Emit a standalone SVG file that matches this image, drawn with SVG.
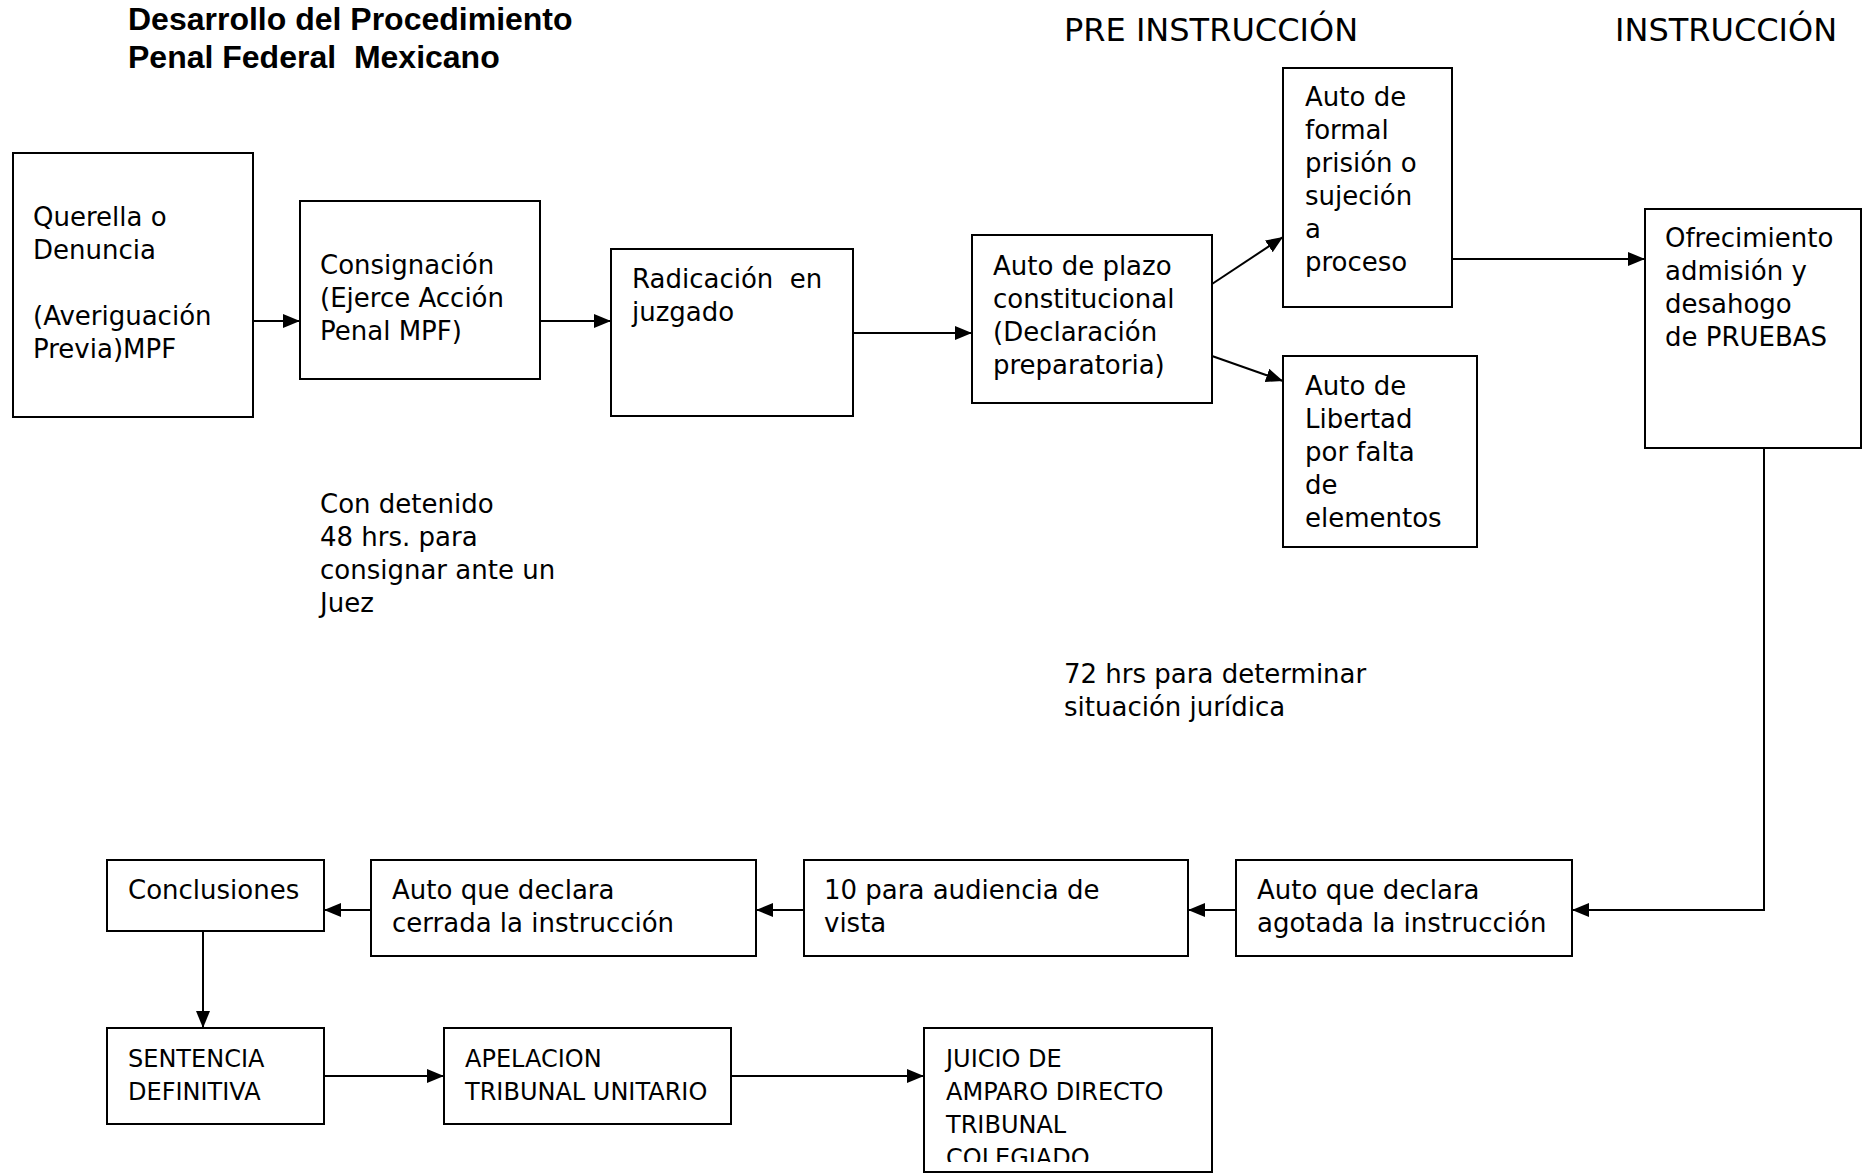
<svg xmlns="http://www.w3.org/2000/svg" width="1865" height="1176" viewBox="0 0 1865 1176">
<style>
.box{fill:#fff;stroke:#000;stroke-width:2}
.t{font-family:"DejaVu Sans","Liberation Sans",sans-serif;font-size:26px;fill:#000}
.u{font-size:24px}
.title{font-family:"Liberation Sans","DejaVu Sans",sans-serif;font-size:32px;font-weight:bold;fill:#000}
.hdr{font-family:"DejaVu Sans","Liberation Sans",sans-serif;font-size:32px;fill:#000}
.c{fill:none;stroke:#000;stroke-width:2}
</style>
<defs>
<marker id="ah" markerUnits="userSpaceOnUse" markerWidth="17" markerHeight="14" refX="17" refY="7" orient="auto">
<path d="M0,0 L17,7 L0,14 Z" fill="#000"/>
</marker>
<clipPath id="clipJ"><rect x="924" y="1028" width="288" height="134"/></clipPath>
</defs>
<rect width="1865" height="1176" fill="#fff"/>
<g id="title">
<text class="title" x="128" y="30">Desarrollo del Procedimiento</text>
<text class="title" x="128" y="68" xml:space="preserve">Penal Federal  Mexicano</text>
</g>
<g id="headers">
<text class="hdr" x="1064" y="41">PRE INSTRUCCIÓN</text>
<text class="hdr" x="1615" y="41">INSTRUCCIÓN</text>
</g>
<g id="connectors">
<line class="c" x1="253" y1="321" x2="300" y2="321" marker-end="url(#ah)"/>
<line class="c" x1="540" y1="321" x2="611" y2="321" marker-end="url(#ah)"/>
<line class="c" x1="853" y1="333" x2="972" y2="333" marker-end="url(#ah)"/>
<line class="c" x1="1212" y1="284" x2="1283" y2="237" marker-end="url(#ah)"/>
<line class="c" x1="1212" y1="356" x2="1283" y2="381" marker-end="url(#ah)"/>
<line class="c" x1="1452" y1="259" x2="1645" y2="259" marker-end="url(#ah)"/>
<polyline class="c" points="1764,448 1764,910 1572,910" marker-end="url(#ah)"/>
<line class="c" x1="1236" y1="910" x2="1188" y2="910" marker-end="url(#ah)"/>
<line class="c" x1="804" y1="910" x2="756" y2="910" marker-end="url(#ah)"/>
<line class="c" x1="371" y1="910" x2="324" y2="910" marker-end="url(#ah)"/>
<line class="c" x1="203" y1="931" x2="203" y2="1028" marker-end="url(#ah)"/>
<line class="c" x1="324" y1="1076" x2="444" y2="1076" marker-end="url(#ah)"/>
<line class="c" x1="731" y1="1076" x2="924" y2="1076" marker-end="url(#ah)"/>
</g>
<g id="n1">
<rect class="box" x="13" y="153" width="240" height="264"/>
<text class="t" x="33" y="226">Querella o</text>
<text class="t" x="33" y="259">Denuncia</text>
<text class="t" x="33" y="325">(Averiguación</text>
<text class="t" x="33" y="358">Previa)MPF</text>
</g>
<g id="n2">
<rect class="box" x="300" y="201" width="240" height="178"/>
<text class="t" x="320" y="274">Consignación</text>
<text class="t" x="320" y="307">(Ejerce Acción</text>
<text class="t" x="320" y="340">Penal MPF)</text>
</g>
<g id="n3">
<rect class="box" x="611" y="249" width="242" height="167"/>
<text class="t" x="632" y="288" xml:space="preserve">Radicación  en</text>
<text class="t" x="632" y="321">juzgado</text>
</g>
<g id="n4">
<rect class="box" x="972" y="235" width="240" height="168"/>
<text class="t" x="993" y="275">Auto de plazo</text>
<text class="t" x="993" y="308">constitucional</text>
<text class="t" x="993" y="341">(Declaración</text>
<text class="t" x="993" y="374">preparatoria)</text>
</g>
<g id="n5">
<rect class="box" x="1283" y="68" width="169" height="239"/>
<text class="t" x="1305" y="106">Auto de</text>
<text class="t" x="1305" y="139">formal</text>
<text class="t" x="1305" y="172">prisión o</text>
<text class="t" x="1305" y="205">sujeción</text>
<text class="t" x="1305" y="238">a</text>
<text class="t" x="1305" y="271">proceso</text>
</g>
<g id="n6">
<rect class="box" x="1283" y="356" width="194" height="191"/>
<text class="t" x="1305" y="395">Auto de</text>
<text class="t" x="1305" y="428">Libertad</text>
<text class="t" x="1305" y="461">por falta</text>
<text class="t" x="1305" y="494">de</text>
<text class="t" x="1305" y="527">elementos</text>
</g>
<g id="n7">
<rect class="box" x="1645" y="209" width="216" height="239"/>
<text class="t" x="1665" y="247">Ofrecimiento</text>
<text class="t" x="1665" y="280">admisión y</text>
<text class="t" x="1665" y="313">desahogo</text>
<text class="t" x="1665" y="346">de PRUEBAS</text>
</g>
<g id="n8">
<rect class="box" x="1236" y="860" width="336" height="96"/>
<text class="t" x="1257" y="899">Auto que declara</text>
<text class="t" x="1257" y="932">agotada la instrucción</text>
</g>
<g id="n9">
<rect class="box" x="804" y="860" width="384" height="96"/>
<text class="t" x="824" y="899">10 para audiencia de</text>
<text class="t" x="824" y="932">vista</text>
</g>
<g id="n10">
<rect class="box" x="371" y="860" width="385" height="96"/>
<text class="t" x="392" y="899">Auto que declara</text>
<text class="t" x="392" y="932">cerrada la instrucción</text>
</g>
<g id="n11">
<rect class="box" x="107" y="860" width="217" height="71"/>
<text class="t" x="128" y="899">Conclusiones</text>
</g>
<g id="n12">
<rect class="box" x="107" y="1028" width="217" height="96"/>
<text class="t u" x="128" y="1067">SENTENCIA</text>
<text class="t u" x="128" y="1100">DEFINITIVA</text>
</g>
<g id="n13">
<rect class="box" x="444" y="1028" width="287" height="96"/>
<text class="t u" x="465" y="1067">APELACION</text>
<text class="t u" x="465" y="1100">TRIBUNAL UNITARIO</text>
</g>
<g id="n14">
<rect class="box" x="924" y="1028" width="288" height="144"/>
<g clip-path="url(#clipJ)">
<text class="t u" x="946" y="1067">JUICIO DE</text>
<text class="t u" x="946" y="1100">AMPARO DIRECTO</text>
<text class="t u" x="946" y="1133">TRIBUNAL</text>
<text class="t u" x="946" y="1166">COLEGIADO</text>
</g>
</g>
<g id="notes">
<text class="t" x="320" y="513">Con detenido</text>
<text class="t" x="320" y="546">48 hrs. para</text>
<text class="t" x="320" y="579">consignar ante un</text>
<text class="t" x="320" y="612">Juez</text>
<text class="t" x="1064" y="683">72 hrs para determinar</text>
<text class="t" x="1064" y="716">situación jurídica</text>
</g>
</svg>
